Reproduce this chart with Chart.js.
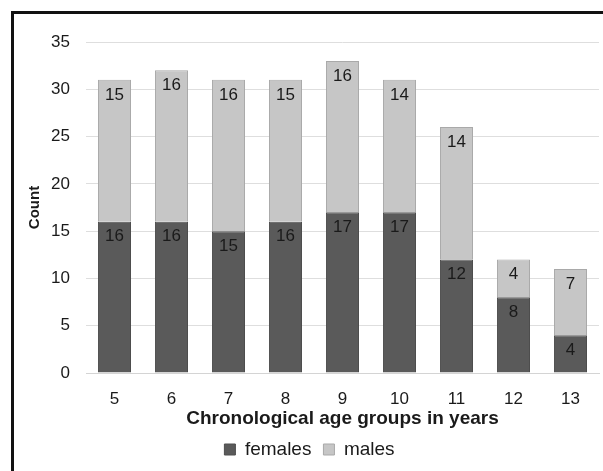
<!DOCTYPE html>
<html>
<head>
<meta charset="utf-8">
<script src="https://cdn.jsdelivr.net/npm/chart.js@4/dist/chart.umd.min.js"></script>
<style>
  html, body { margin: 0; padding: 0; background: #fff; }
  body { width: 603px; height: 471px; position: relative; overflow: hidden; }
  #frame { position: absolute; left: 11px; top: 11px; width: 700px; height: 600px; border: 3px solid #111; box-sizing: border-box; }
  #chart { position: absolute; left: 0; top: 0; }
</style>
</head>
<body>
<div id="frame"></div>
<canvas id="chart" width="603" height="471"></canvas>
<script>
// Age groups and counts per sex
const ageGroups = ['5', '6', '7', '8', '9', '10', '11', '12', '13'];
const females = [16, 16, 15, 16, 17, 17, 12, 8, 4];
const males = [15, 16, 16, 15, 16, 14, 14, 4, 7];
const yTicks = [0, 5, 10, 15, 20, 25, 30, 35];

const FONT = '"Liberation Sans", Arial, sans-serif';
const INK = '#1a1a1a';

// Writes each segment's value just inside the top of its bar
const segmentLabels = {
  id: 'segmentLabels',
  afterDatasetsDraw(chart) {
    const ctx = chart.ctx;
    ctx.save();
    ctx.font = '17px ' + FONT;
    ctx.fillStyle = INK;
    ctx.textAlign = 'center';
    ctx.textBaseline = 'middle';
    chart.data.datasets.forEach((ds, i) => {
      const meta = chart.getDatasetMeta(i);
      meta.data.forEach((bar, j) => {
        ctx.fillText(String(ds.data[j]), bar.x, bar.y + 15);
      });
    });
    ctx.restore();
  }
};

new Chart(document.getElementById('chart'), {
  type: 'bar',
  data: {
    labels: ageGroups,
    datasets: [
      { label: 'females', data: females, backgroundColor: '#5a5a5a', borderColor: '#4e4e4e', borderWidth: 1 },
      { label: 'males', data: males, backgroundColor: '#c6c6c6', borderColor: '#a9a9a9', borderWidth: 1 }
    ]
  },
  options: {
    responsive: false,
    animation: false,
    devicePixelRatio: 1,
    datasets: { bar: { categoryPercentage: 1, barPercentage: 0.58 } },
    layout: { padding: { left: 20, right: 4, top: 42, bottom: 2 } },
    plugins: {
      tooltip: { enabled: false },
      legend: {
        position: 'bottom',
        labels: {
          font: { family: FONT, size: 19 },
          color: INK,
          boxWidth: 11,
          boxHeight: 11,
          padding: 12
        }
      }
    },
    scales: {
      x: {
        stacked: true,
        grid: { display: false, drawTicks: false },
        border: { display: true, color: '#d4d4d4' },
        ticks: { font: { family: FONT, size: 17 }, color: INK, padding: 16 },
        title: { display: true, text: 'Chronological age groups in years', font: { family: FONT, size: 19, weight: 'bold', lineHeight: 1 }, color: INK, padding: 0 },
        afterFit(scale) { scale.height = 55; }
      },
      y: {
        stacked: true,
        min: 0,
        max: 35,
        afterBuildTicks(scale) { scale.ticks = yTicks.map(v => ({ value: v })); },
        grid: { color: '#dedede', drawTicks: false },
        border: { display: false },
        ticks: { font: { family: FONT, size: 17 }, color: INK, padding: 16 },
        title: { display: true, text: 'Count', font: { family: FONT, size: 15, weight: 'bold' }, color: INK, padding: { top: 6, bottom: 0 } },
        afterFit(scale) { scale.width = 66; }
      }
    }
  },
  plugins: [segmentLabels]
});
</script>
</body>
</html>
